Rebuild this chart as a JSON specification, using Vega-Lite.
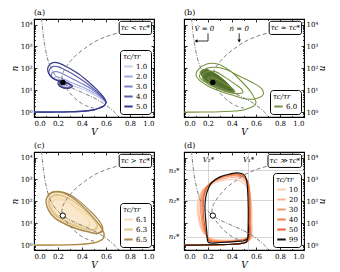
{
"$schema":"https://vega.github.io/schema/vega-lite/v6.json",
"padding":{"left":9,"top":8,"right":0,"bottom":0},
"datasets":{
"vn":[{"V":0.062,"n":19953},{"V":0.068,"n":10000},{"V":0.075,"n":3981},{"V":0.085,"n":1585},{"V":0.1,"n":562},{"V":0.12,"n":200},{"V":0.15,"n":79.4},{"V":0.19,"n":39.8},{"V":0.24,"n":22.4},{"V":0.3,"n":14.1},{"V":0.4,"n":7.94},{"V":0.5,"n":4.47},{"V":0.58,"n":2.51},{"V":0.64,"n":1.41},{"V":0.68,"n":0.89},{"V":0.71,"n":0.5}],
"nn":[{"V":1.0,"n":12589},{"V":0.9,"n":8913},{"V":0.8,"n":6310},{"V":0.7,"n":4169},{"V":0.6,"n":2818},{"V":0.5,"n":1585},{"V":0.42,"n":794},{"V":0.35,"n":398},{"V":0.3,"n":200},{"V":0.26,"n":100},{"V":0.235,"n":50.1},{"V":0.235,"n":28.2},{"V":0.25,"n":17.8},{"V":0.28,"n":10},{"V":0.32,"n":5.62},{"V":0.37,"n":3.16},{"V":0.43,"n":2.0},{"V":0.5,"n":1.51}],
"ta":[
{"s":"1.0","V":0,"n":1},{"s":"1.0","V":0.15,"n":1.01},{"s":"1.0","V":0.3,"n":1.04},{"s":"1.0","V":0.42,"n":1.12},{"s":"1.0","V":0.5,"n":1.26},{"s":"1.0","V":0.55,"n":1.58},{"s":"1.0","V":0.585,"n":2.0},{"s":"1.0","V":0.6,"n":2.8},
{"s":"1.0","V":0.575,"n":3.55},{"s":"1.0","V":0.53,"n":5.25},{"s":"1.0","V":0.45,"n":8.91},{"s":"1.0","V":0.37,"n":13.2},{"s":"1.0","V":0.3,"n":17.8},{"s":"1.0","V":0.25,"n":20.9},{"s":"1.0","V":0.24,"n":22.4},
{"s":"2.0","V":0,"n":1},{"s":"2.0","V":0.15,"n":1.01},{"s":"2.0","V":0.3,"n":1.04},{"s":"2.0","V":0.42,"n":1.12},{"s":"2.0","V":0.5,"n":1.26},{"s":"2.0","V":0.55,"n":1.58},{"s":"2.0","V":0.585,"n":2.0},{"s":"2.0","V":0.6,"n":2.8},
{"s":"2.0","V":0.58,"n":3.55},{"s":"2.0","V":0.54,"n":5.62},{"s":"2.0","V":0.46,"n":10},{"s":"2.0","V":0.38,"n":15.8},{"s":"2.0","V":0.3,"n":24},{"s":"2.0","V":0.23,"n":35.5},{"s":"2.0","V":0.18,"n":41.7},{"s":"2.0","V":0.17,"n":33.1},{"s":"2.0","V":0.2,"n":26.3},{"s":"2.0","V":0.26,"n":22.9},{"s":"2.0","V":0.29,"n":19.1},{"s":"2.0","V":0.27,"n":15.8},{"s":"2.0","V":0.23,"n":16.6},{"s":"2.0","V":0.22,"n":21.4},{"s":"2.0","V":0.24,"n":22.4},
{"s":"3.0","V":0,"n":1},{"s":"3.0","V":0.15,"n":1.01},{"s":"3.0","V":0.3,"n":1.04},{"s":"3.0","V":0.42,"n":1.12},{"s":"3.0","V":0.5,"n":1.26},{"s":"3.0","V":0.55,"n":1.58},{"s":"3.0","V":0.585,"n":2.0},{"s":"3.0","V":0.6,"n":2.8},
{"s":"3.0","V":0.585,"n":3.55},{"s":"3.0","V":0.55,"n":5.62},{"s":"3.0","V":0.48,"n":11.2},{"s":"3.0","V":0.4,"n":20},{"s":"3.0","V":0.32,"n":33.1},{"s":"3.0","V":0.25,"n":52.5},{"s":"3.0","V":0.19,"n":70.8},{"s":"3.0","V":0.155,"n":66.1},{"s":"3.0","V":0.145,"n":47.9},{"s":"3.0","V":0.165,"n":33.9},{"s":"3.0","V":0.21,"n":26.9},{"s":"3.0","V":0.27,"n":22.4},{"s":"3.0","V":0.3,"n":17.8},{"s":"3.0","V":0.29,"n":14.1},{"s":"3.0","V":0.25,"n":13.5},{"s":"3.0","V":0.22,"n":17},{"s":"3.0","V":0.22,"n":24},{"s":"3.0","V":0.25,"n":25.1},{"s":"3.0","V":0.24,"n":22.4},
{"s":"4.0","V":0,"n":1},{"s":"4.0","V":0.15,"n":1.01},{"s":"4.0","V":0.3,"n":1.04},{"s":"4.0","V":0.42,"n":1.12},{"s":"4.0","V":0.5,"n":1.26},{"s":"4.0","V":0.55,"n":1.58},{"s":"4.0","V":0.585,"n":2.0},{"s":"4.0","V":0.6,"n":2.8},
{"s":"4.0","V":0.59,"n":3.55},{"s":"4.0","V":0.56,"n":5.62},{"s":"4.0","V":0.5,"n":11.2},{"s":"4.0","V":0.43,"n":22.4},{"s":"4.0","V":0.35,"n":44.7},{"s":"4.0","V":0.27,"n":79.4},{"s":"4.0","V":0.2,"n":120},{"s":"4.0","V":0.155,"n":120},{"s":"4.0","V":0.13,"n":89.1},{"s":"4.0","V":0.125,"n":60.3},{"s":"4.0","V":0.145,"n":39.8},{"s":"4.0","V":0.19,"n":29.5},{"s":"4.0","V":0.25,"n":24},{"s":"4.0","V":0.3,"n":19.1},{"s":"4.0","V":0.31,"n":14.8},{"s":"4.0","V":0.28,"n":12.6},{"s":"4.0","V":0.23,"n":14.1},{"s":"4.0","V":0.21,"n":19.1},{"s":"4.0","V":0.22,"n":26.3},{"s":"4.0","V":0.25,"n":26.3},{"s":"4.0","V":0.26,"n":21.9},{"s":"4.0","V":0.24,"n":22.4},
{"s":"5.0","V":0,"n":1},{"s":"5.0","V":0.15,"n":1.01},{"s":"5.0","V":0.3,"n":1.04},{"s":"5.0","V":0.42,"n":1.12},{"s":"5.0","V":0.5,"n":1.26},{"s":"5.0","V":0.55,"n":1.58},{"s":"5.0","V":0.585,"n":2.0},{"s":"5.0","V":0.6,"n":2.8},
{"s":"5.0","V":0.595,"n":3.55},{"s":"5.0","V":0.57,"n":5.62},{"s":"5.0","V":0.52,"n":11.2},{"s":"5.0","V":0.45,"n":25.1},{"s":"5.0","V":0.37,"n":56.2},{"s":"5.0","V":0.28,"n":112},{"s":"5.0","V":0.2,"n":178},{"s":"5.0","V":0.15,"n":178},{"s":"5.0","V":0.12,"n":126},{"s":"5.0","V":0.115,"n":79.4},{"s":"5.0","V":0.13,"n":50.1},{"s":"5.0","V":0.17,"n":31.6},{"s":"5.0","V":0.23,"n":25.1},{"s":"5.0","V":0.29,"n":20},{"s":"5.0","V":0.32,"n":15.8},{"s":"5.0","V":0.3,"n":12.6},{"s":"5.0","V":0.25,"n":12.6},{"s":"5.0","V":0.21,"n":15.8},{"s":"5.0","V":0.2,"n":22.4},{"s":"5.0","V":0.22,"n":28.2},{"s":"5.0","V":0.26,"n":25.1},{"s":"5.0","V":0.27,"n":20},{"s":"5.0","V":0.25,"n":20},{"s":"5.0","V":0.24,"n":22.4}
],
"tb":[
{"s":"6.0","V":0,"n":1},{"s":"6.0","V":0.15,"n":1.01},{"s":"6.0","V":0.3,"n":1.04},{"s":"6.0","V":0.42,"n":1.12},{"s":"6.0","V":0.5,"n":1.26},{"s":"6.0","V":0.55,"n":1.58},{"s":"6.0","V":0.585,"n":2.0},{"s":"6.0","V":0.6,"n":2.8},
{"s":"6.0","V":0.59,"n":3.98},{"s":"6.0","V":0.56,"n":7.94},{"s":"6.0","V":0.48,"n":25.1},{"s":"6.0","V":0.38,"n":79.4},{"s":"6.0","V":0.28,"n":158},{"s":"6.0","V":0.19,"n":158},{"s":"6.0","V":0.12,"n":89.1},{"s":"6.0","V":0.1,"n":50.1},{"s":"6.0","V":0.13,"n":28.2},{"s":"6.0","V":0.2,"n":15.8},{"s":"6.0","V":0.3,"n":8.91},{"s":"6.0","V":0.42,"n":5.62},{"s":"6.0","V":0.52,"n":3.98},{"s":"6.0","V":0.62,"n":4.47},{"s":"6.0","V":0.66,"n":6.31},{"s":"6.0","V":0.65,"n":11.2},{"s":"6.0","V":0.57,"n":22.4},{"s":"6.0","V":0.46,"n":44.7},{"s":"6.0","V":0.35,"n":89.1},{"s":"6.0","V":0.27,"n":112},{"s":"6.0","V":0.19,"n":100},{"s":"6.0","V":0.14,"n":63.1},{"s":"6.0","V":0.13,"n":39.8},{"s":"6.0","V":0.17,"n":25.1},{"s":"6.0","V":0.25,"n":14.1},{"s":"6.0","V":0.35,"n":8.91},{"s":"6.0","V":0.44,"n":7.08},{"s":"6.0","V":0.49,"n":7.94},{"s":"6.0","V":0.48,"n":11.2},{"s":"6.0","V":0.42,"n":20},{"s":"6.0","V":0.34,"n":39.8},{"s":"6.0","V":0.26,"n":70.8},{"s":"6.0","V":0.19,"n":70.8},{"s":"6.0","V":0.155,"n":50.1},{"s":"6.0","V":0.16,"n":31.6},{"s":"6.0","V":0.22,"n":20},{"s":"6.0","V":0.3,"n":12.6},{"s":"6.0","V":0.38,"n":8.91},{"s":"6.0","V":0.42,"n":8.91},{"s":"6.0","V":0.4,"n":12.6},{"s":"6.0","V":0.34,"n":20},{"s":"6.0","V":0.27,"n":33},{"s":"6.0","V":0.22,"n":40},{"s":"6.0","V":0.2,"n":35},{"s":"6.0","V":0.22,"n":25},{"s":"6.0","V":0.24,"n":22.4}
],
"fb":[{"V":0.13,"hi":63.1,"lo":63.1},{"V":0.15,"hi":89.1,"lo":39.8},{"V":0.18,"hi":95.5,"lo":26.3},{"V":0.22,"hi":79.4,"lo":17.8},{"V":0.27,"hi":56.2,"lo":12.6},{"V":0.32,"hi":35.5,"lo":9.55},{"V":0.37,"hi":20,"lo":7.94},{"V":0.41,"hi":11.2,"lo":7.59},{"V":0.43,"hi":8.5,"lo":8.5}],
"tc":[
{"s":"6.1","V":0,"n":1},{"s":"6.1","V":0.15,"n":1.01},{"s":"6.1","V":0.3,"n":1.04},{"s":"6.1","V":0.42,"n":1.12},{"s":"6.1","V":0.5,"n":1.26},{"s":"6.1","V":0.55,"n":1.58},{"s":"6.1","V":0.575,"n":2.0},{"s":"6.1","V":0.585,"n":2.8},
{"s":"6.1","V":0.57,"n":3.98},{"s":"6.1","V":0.54,"n":7.94},{"s":"6.1","V":0.46,"n":20},{"s":"6.1","V":0.38,"n":44.7},{"s":"6.1","V":0.3,"n":89.1},{"s":"6.1","V":0.22,"n":141},{"s":"6.1","V":0.17,"n":132},{"s":"6.1","V":0.14,"n":89.1},{"s":"6.1","V":0.14,"n":56.2},{"s":"6.1","V":0.17,"n":28.2},{"s":"6.1","V":0.23,"n":16.6},{"s":"6.1","V":0.31,"n":10.5},{"s":"6.1","V":0.39,"n":7.59},{"s":"6.1","V":0.45,"n":7.08},{"s":"6.1","V":0.47,"n":9.55},{"s":"6.1","V":0.44,"n":17.8},{"s":"6.1","V":0.38,"n":35.5},{"s":"6.1","V":0.31,"n":70.8},{"s":"6.1","V":0.24,"n":112},{"s":"6.1","V":0.18,"n":117},{"s":"6.1","V":0.15,"n":85.1},{"s":"6.1","V":0.15,"n":53.7},{"s":"6.1","V":0.18,"n":28.8},{"s":"6.1","V":0.24,"n":17},{"s":"6.1","V":0.32,"n":10.7},{"s":"6.1","V":0.4,"n":7.76},{"s":"6.1","V":0.45,"n":7.41},{"s":"6.1","V":0.46,"n":10.5},
{"s":"6.3","V":0,"n":1},{"s":"6.3","V":0.15,"n":1.01},{"s":"6.3","V":0.3,"n":1.04},{"s":"6.3","V":0.42,"n":1.12},{"s":"6.3","V":0.5,"n":1.26},{"s":"6.3","V":0.55,"n":1.58},{"s":"6.3","V":0.575,"n":2.0},{"s":"6.3","V":0.585,"n":2.8},
{"s":"6.3","V":0.575,"n":3.98},{"s":"6.3","V":0.545,"n":7.94},{"s":"6.3","V":0.47,"n":22.4},{"s":"6.3","V":0.39,"n":56.2},{"s":"6.3","V":0.3,"n":126},{"s":"6.3","V":0.22,"n":200},{"s":"6.3","V":0.16,"n":191},{"s":"6.3","V":0.125,"n":126},{"s":"6.3","V":0.12,"n":75.9},{"s":"6.3","V":0.14,"n":39.8},{"s":"6.3","V":0.19,"n":20},{"s":"6.3","V":0.27,"n":11.2},{"s":"6.3","V":0.37,"n":6.61},{"s":"6.3","V":0.46,"n":5.01},{"s":"6.3","V":0.52,"n":5.25},{"s":"6.3","V":0.53,"n":7.08},{"s":"6.3","V":0.5,"n":14.1},{"s":"6.3","V":0.44,"n":31.6},{"s":"6.3","V":0.36,"n":75.9},{"s":"6.3","V":0.28,"n":141},{"s":"6.3","V":0.21,"n":186},{"s":"6.3","V":0.16,"n":170},{"s":"6.3","V":0.13,"n":112},{"s":"6.3","V":0.13,"n":70.8},{"s":"6.3","V":0.15,"n":39.8},{"s":"6.3","V":0.2,"n":20.4},{"s":"6.3","V":0.28,"n":11.5},{"s":"6.3","V":0.38,"n":6.76},{"s":"6.3","V":0.46,"n":5.25},{"s":"6.3","V":0.51,"n":5.5},{"s":"6.3","V":0.52,"n":7.94},
{"s":"6.5","V":0,"n":1},{"s":"6.5","V":0.15,"n":1.01},{"s":"6.5","V":0.3,"n":1.04},{"s":"6.5","V":0.42,"n":1.12},{"s":"6.5","V":0.5,"n":1.26},{"s":"6.5","V":0.55,"n":1.58},{"s":"6.5","V":0.575,"n":2.0},{"s":"6.5","V":0.585,"n":2.8},
{"s":"6.5","V":0.58,"n":3.98},{"s":"6.5","V":0.55,"n":7.94},{"s":"6.5","V":0.48,"n":22.4},{"s":"6.5","V":0.4,"n":63.1},{"s":"6.5","V":0.31,"n":158},{"s":"6.5","V":0.22,"n":263},{"s":"6.5","V":0.15,"n":251},{"s":"6.5","V":0.11,"n":158},{"s":"6.5","V":0.1,"n":89.1},{"s":"6.5","V":0.12,"n":39.8},{"s":"6.5","V":0.17,"n":17.8},{"s":"6.5","V":0.25,"n":9.55},{"s":"6.5","V":0.35,"n":5.62},{"s":"6.5","V":0.45,"n":3.98},{"s":"6.5","V":0.53,"n":3.31},{"s":"6.5","V":0.57,"n":4.47},{"s":"6.5","V":0.57,"n":7.08},{"s":"6.5","V":0.53,"n":15.8},{"s":"6.5","V":0.46,"n":39.8},{"s":"6.5","V":0.38,"n":100},{"s":"6.5","V":0.3,"n":200},{"s":"6.5","V":0.22,"n":282},{"s":"6.5","V":0.15,"n":263},{"s":"6.5","V":0.11,"n":166},{"s":"6.5","V":0.1,"n":93.3},{"s":"6.5","V":0.12,"n":41.7},{"s":"6.5","V":0.17,"n":18.6},{"s":"6.5","V":0.25,"n":10},{"s":"6.5","V":0.35,"n":5.89},{"s":"6.5","V":0.45,"n":4.17},{"s":"6.5","V":0.53,"n":3.47},{"s":"6.5","V":0.57,"n":4.68}
],
"fc":[{"V":0.1,"hi":89.1,"lo":89.1},{"V":0.11,"hi":158,"lo":63.1},{"V":0.12,"hi":200,"lo":39.8},{"V":0.15,"hi":251,"lo":25.1},{"V":0.2,"hi":263,"lo":14.1},{"V":0.25,"hi":240,"lo":9.55},{"V":0.3,"hi":191,"lo":7.24},{"V":0.35,"hi":126,"lo":5.62},{"V":0.4,"hi":70.8,"lo":4.68},{"V":0.45,"hi":35.5,"lo":3.98},{"V":0.5,"hi":15.8,"lo":3.47},{"V":0.55,"hi":7.08,"lo":3.55},{"V":0.57,"hi":4.47,"lo":4.47}],
"td":[
{"s":"10","V":0,"n":1},{"s":"10","V":0.1,"n":1.0},{"s":"10","V":0.2,"n":1.02},{"s":"10","V":0.3,"n":1.05},{"s":"10","V":0.4,"n":1.1},{"s":"10","V":0.48,"n":1.2},{"s":"10","V":0.52,"n":1.4},
{"s":"10","V":0.56,"n":2.0},{"s":"10","V":0.565,"n":10},{"s":"10","V":0.565,"n":39.8},{"s":"10","V":0.555,"n":158},{"s":"10","V":0.52,"n":501},{"s":"10","V":0.46,"n":891},{"s":"10","V":0.39,"n":1000},{"s":"10","V":0.31,"n":891},{"s":"10","V":0.23,"n":631},{"s":"10","V":0.16,"n":355},{"s":"10","V":0.125,"n":178},{"s":"10","V":0.11,"n":63.1},{"s":"10","V":0.12,"n":15.8},{"s":"10","V":0.155,"n":3.98},{"s":"10","V":0.23,"n":2.0},{"s":"10","V":0.33,"n":1.7},{"s":"10","V":0.44,"n":1.8},{"s":"10","V":0.53,"n":2.2},{"s":"10","V":0.56,"n":3.55},{"s":"10","V":0.565,"n":10},
{"s":"20","V":0,"n":1},{"s":"20","V":0.1,"n":1.0},{"s":"20","V":0.2,"n":1.02},{"s":"20","V":0.3,"n":1.05},{"s":"20","V":0.4,"n":1.1},{"s":"20","V":0.48,"n":1.2},{"s":"20","V":0.52,"n":1.4},
{"s":"20","V":0.555,"n":2.0},{"s":"20","V":0.558,"n":10},{"s":"20","V":0.558,"n":39.8},{"s":"20","V":0.552,"n":178},{"s":"20","V":0.53,"n":562},{"s":"20","V":0.48,"n":1059},{"s":"20","V":0.41,"n":1230},{"s":"20","V":0.33,"n":1100},{"s":"20","V":0.25,"n":794},{"s":"20","V":0.18,"n":420},{"s":"20","V":0.14,"n":200},{"s":"20","V":0.125,"n":63.1},{"s":"20","V":0.13,"n":15.8},{"s":"20","V":0.165,"n":3.98},{"s":"20","V":0.225,"n":1.91},{"s":"20","V":0.32,"n":1.58},{"s":"20","V":0.43,"n":1.66},{"s":"20","V":0.52,"n":2.0},{"s":"20","V":0.555,"n":3.16},{"s":"20","V":0.558,"n":10},
{"s":"30","V":0,"n":1},{"s":"30","V":0.1,"n":1.0},{"s":"30","V":0.2,"n":1.02},{"s":"30","V":0.3,"n":1.05},{"s":"30","V":0.4,"n":1.1},{"s":"30","V":0.48,"n":1.2},{"s":"30","V":0.52,"n":1.4},
{"s":"30","V":0.55,"n":2.0},{"s":"30","V":0.553,"n":10},{"s":"30","V":0.553,"n":44.7},{"s":"30","V":0.55,"n":200},{"s":"30","V":0.535,"n":631},{"s":"30","V":0.49,"n":1230},{"s":"30","V":0.42,"n":1445},{"s":"30","V":0.34,"n":1300},{"s":"30","V":0.26,"n":912},{"s":"30","V":0.19,"n":490},{"s":"30","V":0.15,"n":200},{"s":"30","V":0.138,"n":63.1},{"s":"30","V":0.145,"n":15.8},{"s":"30","V":0.172,"n":3.98},{"s":"30","V":0.22,"n":1.78},{"s":"30","V":0.31,"n":1.51},{"s":"30","V":0.42,"n":1.58},{"s":"30","V":0.51,"n":1.91},{"s":"30","V":0.55,"n":2.82},{"s":"30","V":0.553,"n":10},
{"s":"40","V":0,"n":1},{"s":"40","V":0.1,"n":1.0},{"s":"40","V":0.2,"n":1.02},{"s":"40","V":0.3,"n":1.05},{"s":"40","V":0.4,"n":1.1},{"s":"40","V":0.48,"n":1.2},{"s":"40","V":0.52,"n":1.4},
{"s":"40","V":0.545,"n":2.0},{"s":"40","V":0.55,"n":10},{"s":"40","V":0.55,"n":50.1},{"s":"40","V":0.545,"n":224},{"s":"40","V":0.535,"n":708},{"s":"40","V":0.5,"n":1318},{"s":"40","V":0.44,"n":1620},{"s":"40","V":0.36,"n":1480},{"s":"40","V":0.28,"n":1050},{"s":"40","V":0.205,"n":562},{"s":"40","V":0.162,"n":200},{"s":"40","V":0.15,"n":63.1},{"s":"40","V":0.155,"n":15.8},{"s":"40","V":0.178,"n":3.98},{"s":"40","V":0.215,"n":1.66},{"s":"40","V":0.3,"n":1.45},{"s":"40","V":0.42,"n":1.55},{"s":"40","V":0.51,"n":1.86},{"s":"40","V":0.545,"n":2.63},{"s":"40","V":0.55,"n":10},
{"s":"50","V":0,"n":1},{"s":"50","V":0.1,"n":1.0},{"s":"50","V":0.2,"n":1.02},{"s":"50","V":0.3,"n":1.05},{"s":"50","V":0.4,"n":1.1},{"s":"50","V":0.48,"n":1.2},{"s":"50","V":0.52,"n":1.4},
{"s":"50","V":0.54,"n":2.0},{"s":"50","V":0.545,"n":10},{"s":"50","V":0.545,"n":50.1},{"s":"50","V":0.54,"n":251},{"s":"50","V":0.53,"n":794},{"s":"50","V":0.5,"n":1413},{"s":"50","V":0.44,"n":1800},{"s":"50","V":0.37,"n":1640},{"s":"50","V":0.29,"n":1190},{"s":"50","V":0.215,"n":631},{"s":"50","V":0.172,"n":224},{"s":"50","V":0.16,"n":63.1},{"s":"50","V":0.165,"n":15.8},{"s":"50","V":0.183,"n":3.98},{"s":"50","V":0.21,"n":1.58},{"s":"50","V":0.3,"n":1.38},{"s":"50","V":0.42,"n":1.51},{"s":"50","V":0.51,"n":1.78},{"s":"50","V":0.54,"n":2.51},{"s":"50","V":0.545,"n":10},
{"s":"99","V":0,"n":1},{"s":"99","V":0.1,"n":1.0},{"s":"99","V":0.2,"n":1.02},{"s":"99","V":0.3,"n":1.05},{"s":"99","V":0.4,"n":1.1},{"s":"99","V":0.48,"n":1.2},{"s":"99","V":0.52,"n":1.4},
{"s":"99","V":0.53,"n":2.0},{"s":"99","V":0.535,"n":10},{"s":"99","V":0.535,"n":63.1},{"s":"99","V":0.53,"n":316},{"s":"99","V":0.52,"n":1000},{"s":"99","V":0.5,"n":1660},{"s":"99","V":0.45,"n":1995},{"s":"99","V":0.38,"n":1778},{"s":"99","V":0.3,"n":1318},{"s":"99","V":0.23,"n":708},{"s":"99","V":0.19,"n":251},{"s":"99","V":0.175,"n":63.1},{"s":"99","V":0.18,"n":15.8},{"s":"99","V":0.19,"n":3.98},{"s":"99","V":0.2,"n":1.41},{"s":"99","V":0.22,"n":1.26},{"s":"99","V":0.3,"n":1.32},{"s":"99","V":0.42,"n":1.45},{"s":"99","V":0.5,"n":1.58},{"s":"99","V":0.53,"n":2.0},{"s":"99","V":0.535,"n":10}
]
},
"resolve":{"scale":{"color":"independent"},"legend":{"color":"independent"}},
"spacing":4,
"vconcat":[
{"spacing":30,"bounds":"flush","resolve":{"scale":{"color":"independent"},"legend":{"color":"independent"}},
"hconcat":[
{"width":120,"height":98,"title":{"text":"(a)"},
"resolve":{"axis":{"x":"independent","y":"independent"}},
"layer":[
{"data":{"name":"ta"},"mark":{"type":"line","strokeWidth":1.2,"interpolate":"catmull-rom","clip":true},
"encoding":{
"x":{"field":"V","type":"quantitative","scale":{"domain":[0,1],"nice":false,"zero":false},"axis":{"orient":"bottom","values":[0.1,0.3,0.5,0.7,0.9],"labels":false,"tickSize":-1.5,"title":null}},
"y":{"field":"n","type":"quantitative","scale":{"type":"log","domain":[0.6,18000],"nice":false},"axis":{"orient":"left","values":[0.7,0.8,0.9,2,3,4,5,6,7,8,9,20,30,40,50,60,70,80,90,200,300,400,500,600,700,800,900,2000,3000,4000,5000,6000,7000,8000,9000],"labels":false,"tickSize":-1.5,"title":null}},
"color":{"field":"s","type":"nominal","scale":{"domain":["1.0","2.0","3.0","4.0","5.0"],"range":["#c8cbef","#a3a7e2","#7e83ca","#585dab","#353887"]},"legend":{"title":"τc/τr","orient":"bottom-right","offset":3}},
"order":{"value":null}}},
{"data":{"name":"vn"},"mark":{"type":"line","stroke":"#707070","strokeWidth":0.9,"strokeDash":[4,1.5,1,1.5],"interpolate":"catmull-rom","clip":true},
"encoding":{
"x":{"field":"V","type":"quantitative","scale":{"domain":[0,1],"nice":false,"zero":false},"axis":{"orient":"bottom","values":[0,0.2,0.4,0.6,0.8,1],"format":".1f","title":"V"}},
"y":{"field":"n","type":"quantitative","scale":{"type":"log","domain":[0.6,18000],"nice":false},"axis":{"orient":"left","values":[1,10,100,1000,10000],"labelExpr":"datum.value < 5 ? '10⁰' : datum.value < 50 ? '10¹' : datum.value < 500 ? '10²' : datum.value < 5000 ? '10³' : '10⁴'","title":"n"}}}},
{"data":{"name":"nn"},"mark":{"type":"line","stroke":"#707070","strokeWidth":0.9,"strokeDash":[4,2.5],"interpolate":"catmull-rom","clip":true},
"encoding":{
"x":{"field":"V","type":"quantitative","scale":{"domain":[0,1],"nice":false,"zero":false},"axis":{"orient":"top","values":[0,0.2,0.4,0.6,0.8,1],"labels":false,"title":null}},
"y":{"field":"n","type":"quantitative","scale":{"type":"log","domain":[0.6,18000],"nice":false},"axis":{"orient":"right","values":[1,10,100,1000,10000],"labels":false,"title":null}},
"order":{"value":null}}},
{"data":{"values":[{}]},"mark":{"type":"point","filled":true,"color":"black","size":30,"opacity":1},
"encoding":{
"x":{"datum":0.24,"type":"quantitative","scale":{"domain":[0,1],"nice":false,"zero":false},"axis":{"orient":"top","values":[0.1,0.3,0.5,0.7,0.9],"labels":false,"tickSize":-1.5,"title":null}},
"y":{"datum":22.4,"type":"quantitative","scale":{"type":"log","domain":[0.6,18000],"nice":false},"axis":{"orient":"right","values":[0.7,0.8,0.9,2,3,4,5,6,7,8,9,20,30,40,50,60,70,80,90,200,300,400,500,600,700,800,900,2000,3000,4000,5000,6000,7000,8000,9000],"labels":false,"tickSize":-1.5,"title":null}}}},
{"data":{"values":[{}]},"mark":{"type":"rect","fill":"white","stroke":"black","strokeWidth":1,"cornerRadius":2},
"encoding":{"x":{"datum":0.71,"type":"quantitative","axis":null},"x2":{"datum":0.98},"y":{"datum":3548,"type":"quantitative","axis":null},"y2":{"datum":14125}}},
{"data":{"values":[{}]},"mark":{"type":"text","text":"τc < τc*","fontSize":7,"fontStyle":"italic","font":"DejaVu Serif"},
"encoding":{"x":{"datum":0.845,"type":"quantitative","axis":null},"y":{"datum":7079,"type":"quantitative","axis":null}}}
]},
{"width":120,"height":98,"title":{"text":"(b)"},
"resolve":{"axis":{"x":"independent","y":"independent"}},
"layer":[
{"data":{"name":"fb"},"mark":{"type":"area","fill":"#53702b","opacity":1,"interpolate":"monotone","clip":true},
"encoding":{
"x":{"field":"V","type":"quantitative","scale":{"domain":[0,1],"nice":false,"zero":false},"axis":{"orient":"bottom","values":[0.1,0.3,0.5,0.7,0.9],"labels":false,"tickSize":-1.5,"title":null}},
"y":{"field":"hi","type":"quantitative","scale":{"type":"log","domain":[0.6,18000],"nice":false},"axis":{"orient":"left","values":[0.7,0.8,0.9,2,3,4,5,6,7,8,9,20,30,40,50,60,70,80,90,200,300,400,500,600,700,800,900,2000,3000,4000,5000,6000,7000,8000,9000],"labels":false,"tickSize":-1.5,"title":null}},
"y2":{"field":"lo"}}},
{"data":{"name":"tb"},"mark":{"type":"line","strokeWidth":1.1,"interpolate":"catmull-rom","clip":true},
"encoding":{
"x":{"field":"V","type":"quantitative","scale":{"domain":[0,1],"nice":false,"zero":false},"axis":{"orient":"top","values":[0.1,0.3,0.5,0.7,0.9],"labels":false,"tickSize":-1.5,"title":null}},
"y":{"field":"n","type":"quantitative","scale":{"type":"log","domain":[0.6,18000],"nice":false},"axis":{"orient":"right","values":[0.7,0.8,0.9,2,3,4,5,6,7,8,9,20,30,40,50,60,70,80,90,200,300,400,500,600,700,800,900,2000,3000,4000,5000,6000,7000,8000,9000],"labels":false,"tickSize":-1.5,"title":null}},
"color":{"field":"s","type":"nominal","scale":{"domain":["6.0"],"range":["#76933f"]},"legend":{"title":"τc/τr","orient":"bottom-right","offset":3}},
"order":{"value":null}}},
{"data":{"name":"vn"},"mark":{"type":"line","stroke":"#707070","strokeWidth":0.9,"strokeDash":[4,1.5,1,1.5],"interpolate":"catmull-rom","clip":true},
"encoding":{
"x":{"field":"V","type":"quantitative","scale":{"domain":[0,1],"nice":false,"zero":false},"axis":{"orient":"bottom","values":[0,0.2,0.4,0.6,0.8,1],"format":".1f","title":"V"}},
"y":{"field":"n","type":"quantitative","scale":{"type":"log","domain":[0.6,18000],"nice":false},"axis":{"orient":"right","values":[1,10,100,1000,10000],"labelExpr":"datum.value < 5 ? '10⁰' : datum.value < 50 ? '10¹' : datum.value < 500 ? '10²' : datum.value < 5000 ? '10³' : '10⁴'","title":"n","titlePadding":0}}}},
{"data":{"name":"nn"},"mark":{"type":"line","stroke":"#707070","strokeWidth":0.9,"strokeDash":[4,2.5],"interpolate":"catmull-rom","clip":true},
"encoding":{
"x":{"field":"V","type":"quantitative","scale":{"domain":[0,1],"nice":false,"zero":false},"axis":{"orient":"top","values":[0,0.2,0.4,0.6,0.8,1],"labels":false,"title":null}},
"y":{"field":"n","type":"quantitative","scale":{"type":"log","domain":[0.6,18000],"nice":false},"axis":{"orient":"left","values":[1,10,100,1000,10000],"labels":false,"title":null}},
"order":{"value":null}}},
{"data":{"values":[{}]},"mark":{"type":"point","filled":true,"color":"black","size":30,"opacity":1},
"encoding":{"x":{"datum":0.24,"type":"quantitative","axis":null},"y":{"datum":22.4,"type":"quantitative","axis":null}}},
{"data":{"values":[{}]},"mark":{"type":"rect","fill":"white","stroke":"black","strokeWidth":1,"cornerRadius":2},
"encoding":{"x":{"datum":0.71,"type":"quantitative","axis":null},"x2":{"datum":0.98},"y":{"datum":3548,"type":"quantitative","axis":null},"y2":{"datum":14125}}},
{"data":{"values":[{}]},"mark":{"type":"text","text":"τc ≈ τc*","fontSize":7,"fontStyle":"italic","font":"DejaVu Serif"},
"encoding":{"x":{"datum":0.845,"type":"quantitative","axis":null},"y":{"datum":7079,"type":"quantitative","axis":null}}},
{"data":{"values":[{}]},"mark":{"type":"text","text":"V̇ = 0","fontSize":7,"fontStyle":"italic","font":"DejaVu Serif"},
"encoding":{"x":{"datum":0.17,"type":"quantitative","axis":null},"y":{"datum":6166,"type":"quantitative","axis":null}}},
{"data":{"values":[{}]},"mark":{"type":"text","text":"ṅ = 0","fontSize":7,"fontStyle":"italic","font":"DejaVu Serif"},
"encoding":{"x":{"datum":0.46,"type":"quantitative","axis":null},"y":{"datum":6166,"type":"quantitative","axis":null}}},
{"data":{"values":[{}]},"mark":{"type":"rule","color":"black","strokeWidth":0.8},
"encoding":{"x":{"datum":0.2,"type":"quantitative","axis":null},"y":{"datum":3981,"type":"quantitative","axis":null},"y2":{"datum":1778}}},
{"data":{"values":[{}]},"mark":{"type":"rule","color":"black","strokeWidth":0.8},
"encoding":{"x":{"datum":0.2,"type":"quantitative","axis":null},"x2":{"datum":0.1},"y":{"datum":1778,"type":"quantitative","axis":null}}},
{"data":{"values":[{}]},"mark":{"type":"rule","color":"black","strokeWidth":0.8},
"encoding":{"x":{"datum":0.46,"type":"quantitative","axis":null},"y":{"datum":3981,"type":"quantitative","axis":null},"y2":{"datum":1778}}},
{"data":{"values":[{}]},"mark":{"type":"point","shape":"triangle-left","filled":true,"color":"black","size":12,"opacity":1},
"encoding":{"x":{"datum":0.1,"type":"quantitative","axis":null},"y":{"datum":1778,"type":"quantitative","axis":null}}},
{"data":{"values":[{}]},"mark":{"type":"point","shape":"triangle-down","filled":true,"color":"black","size":12,"opacity":1},
"encoding":{"x":{"datum":0.46,"type":"quantitative","axis":null},"y":{"datum":1778,"type":"quantitative","axis":null}}}
]}
]},
{"spacing":30,"bounds":"flush","resolve":{"scale":{"color":"independent"},"legend":{"color":"independent"}},
"hconcat":[
{"width":120,"height":98,"title":{"text":"(c)"},
"resolve":{"axis":{"x":"independent","y":"independent"}},
"layer":[
{"data":{"name":"fc"},"mark":{"type":"area","fill":"#fbe8cc","opacity":1,"interpolate":"monotone","clip":true},
"encoding":{
"x":{"field":"V","type":"quantitative","scale":{"domain":[0,1],"nice":false,"zero":false},"axis":{"orient":"bottom","values":[0.1,0.3,0.5,0.7,0.9],"labels":false,"tickSize":-1.5,"title":null}},
"y":{"field":"hi","type":"quantitative","scale":{"type":"log","domain":[0.6,18000],"nice":false},"axis":{"orient":"left","values":[0.7,0.8,0.9,2,3,4,5,6,7,8,9,20,30,40,50,60,70,80,90,200,300,400,500,600,700,800,900,2000,3000,4000,5000,6000,7000,8000,9000],"labels":false,"tickSize":-1.5,"title":null}},
"y2":{"field":"lo"}}},
{"data":{"name":"tc"},"mark":{"type":"line","strokeWidth":1.2,"interpolate":"catmull-rom","clip":true},
"encoding":{
"x":{"field":"V","type":"quantitative","scale":{"domain":[0,1],"nice":false,"zero":false},"axis":{"orient":"top","values":[0.1,0.3,0.5,0.7,0.9],"labels":false,"tickSize":-1.5,"title":null}},
"y":{"field":"n","type":"quantitative","scale":{"type":"log","domain":[0.6,18000],"nice":false},"axis":{"orient":"right","values":[0.7,0.8,0.9,2,3,4,5,6,7,8,9,20,30,40,50,60,70,80,90,200,300,400,500,600,700,800,900,2000,3000,4000,5000,6000,7000,8000,9000],"labels":false,"tickSize":-1.5,"title":null}},
"color":{"field":"s","type":"nominal","scale":{"domain":["6.1","6.3","6.5"],"range":["#f3dcae","#e2c489","#a8884a"]},"legend":{"title":"τc/τr","orient":"bottom-right","offset":3}},
"order":{"value":null}}},
{"data":{"name":"vn"},"mark":{"type":"line","stroke":"#707070","strokeWidth":0.9,"strokeDash":[4,1.5,1,1.5],"interpolate":"catmull-rom","clip":true},
"encoding":{
"x":{"field":"V","type":"quantitative","scale":{"domain":[0,1],"nice":false,"zero":false},"axis":{"orient":"bottom","values":[0,0.2,0.4,0.6,0.8,1],"format":".1f","title":"V"}},
"y":{"field":"n","type":"quantitative","scale":{"type":"log","domain":[0.6,18000],"nice":false},"axis":{"orient":"left","values":[1,10,100,1000,10000],"labelExpr":"datum.value < 5 ? '10⁰' : datum.value < 50 ? '10¹' : datum.value < 500 ? '10²' : datum.value < 5000 ? '10³' : '10⁴'","title":"n"}}}},
{"data":{"name":"nn"},"mark":{"type":"line","stroke":"#707070","strokeWidth":0.9,"strokeDash":[4,2.5],"interpolate":"catmull-rom","clip":true},
"encoding":{
"x":{"field":"V","type":"quantitative","scale":{"domain":[0,1],"nice":false,"zero":false},"axis":{"orient":"top","values":[0,0.2,0.4,0.6,0.8,1],"labels":false,"title":null}},
"y":{"field":"n","type":"quantitative","scale":{"type":"log","domain":[0.6,18000],"nice":false},"axis":{"orient":"right","values":[1,10,100,1000,10000],"labels":false,"title":null}},
"order":{"value":null}}},
{"data":{"values":[{}]},"mark":{"type":"point","filled":true,"fill":"white","stroke":"black","strokeWidth":1,"size":28,"opacity":1},
"encoding":{"x":{"datum":0.24,"type":"quantitative","axis":null},"y":{"datum":22.4,"type":"quantitative","axis":null}}},
{"data":{"values":[{}]},"mark":{"type":"rect","fill":"white","stroke":"black","strokeWidth":1,"cornerRadius":2},
"encoding":{"x":{"datum":0.71,"type":"quantitative","axis":null},"x2":{"datum":0.98},"y":{"datum":3548,"type":"quantitative","axis":null},"y2":{"datum":14125}}},
{"data":{"values":[{}]},"mark":{"type":"text","text":"τc > τc*","fontSize":7,"fontStyle":"italic","font":"DejaVu Serif"},
"encoding":{"x":{"datum":0.845,"type":"quantitative","axis":null},"y":{"datum":7079,"type":"quantitative","axis":null}}}
]},
{"width":120,"height":98,"title":{"text":"(d)"},
"resolve":{"axis":{"x":"independent","y":"independent"}},
"layer":[
{"data":{"name":"td"},"mark":{"type":"line","strokeWidth":1.2,"interpolate":"catmull-rom","clip":true},
"encoding":{
"x":{"field":"V","type":"quantitative","scale":{"domain":[0,1],"nice":false,"zero":false},"axis":{"orient":"bottom","values":[0.1,0.3,0.5,0.7,0.9],"labels":false,"tickSize":-1.5,"title":null}},
"y":{"field":"n","type":"quantitative","scale":{"type":"log","domain":[0.6,18000],"nice":false},"axis":{"orient":"left","values":[2.4,110,2600],"labelExpr":"datum.value < 10 ? 'n₁*' : datum.value < 1000 ? 'n₂*' : 'n₃*'","labelFontStyle":"italic","ticks":false,"grid":true,"gridColor":"#c4c4c4","gridWidth":0.7,"title":null}},
"color":{"field":"s","type":"nominal","scale":{"domain":["10","20","30","40","50","99"],"range":["#fcccb2","#fab393","#f7986d","#f27c49","#e8612a","#111111"]},"legend":{"title":"τc/τr","orient":"bottom-right","offset":3}},
"order":{"value":null}}},
{"data":{"name":"vn"},"mark":{"type":"line","stroke":"#707070","strokeWidth":0.9,"strokeDash":[4,1.5,1,1.5],"interpolate":"catmull-rom","clip":true},
"encoding":{
"x":{"field":"V","type":"quantitative","scale":{"domain":[0,1],"nice":false,"zero":false},"axis":{"orient":"bottom","values":[0,0.2,0.4,0.6,0.8,1],"format":".1f","title":"V"}},
"y":{"field":"n","type":"quantitative","scale":{"type":"log","domain":[0.6,18000],"nice":false},"axis":{"orient":"right","values":[1,10,100,1000,10000],"labelExpr":"datum.value < 5 ? '10⁰' : datum.value < 50 ? '10¹' : datum.value < 500 ? '10²' : datum.value < 5000 ? '10³' : '10⁴'","title":"n","titlePadding":0}}}},
{"data":{"name":"nn"},"mark":{"type":"line","stroke":"#707070","strokeWidth":0.9,"strokeDash":[4,2.5],"interpolate":"catmull-rom","clip":true},
"encoding":{
"x":{"field":"V","type":"quantitative","scale":{"domain":[0,1],"nice":false,"zero":false},"axis":{"orient":"top","values":[0,0.2,0.4,0.6,0.8,1],"labels":false,"title":null}},
"y":{"field":"n","type":"quantitative","scale":{"type":"log","domain":[0.6,18000],"nice":false},"axis":{"orient":"left","values":[1,10,100,1000,10000],"labels":false,"title":null}},
"order":{"value":null}}},
{"data":{"values":[{}]},"mark":{"type":"point","filled":true,"fill":"white","stroke":"black","strokeWidth":1,"size":28,"opacity":1},
"encoding":{
"x":{"datum":0.24,"type":"quantitative","scale":{"domain":[0,1],"nice":false,"zero":false},"axis":{"orient":"top","values":[0.2,0.535],"labelExpr":"datum.value < 0.3 ? 'V₂*' : 'V₁*'","labelFontStyle":"italic","ticks":false,"grid":true,"gridColor":"#c4c4c4","gridWidth":0.7,"labelPadding":-10,"title":null}},
"y":{"datum":22.4,"type":"quantitative","scale":{"type":"log","domain":[0.6,18000],"nice":false},"axis":{"orient":"right","values":[0.7,0.8,0.9,2,3,4,5,6,7,8,9,20,30,40,50,60,70,80,90,200,300,400,500,600,700,800,900,2000,3000,4000,5000,6000,7000,8000,9000],"labels":false,"tickSize":-1.5,"title":null}}}},
{"data":{"values":[{}]},"mark":{"type":"rect","fill":"white","stroke":"black","strokeWidth":1,"cornerRadius":2},
"encoding":{
"x":{"datum":0.7,"type":"quantitative","scale":{"domain":[0,1],"nice":false,"zero":false},"axis":{"orient":"top","values":[0.1,0.3,0.5,0.7,0.9],"labels":false,"tickSize":-1.5,"title":null}},
"x2":{"datum":0.98},
"y":{"datum":3548,"type":"quantitative","scale":{"type":"log","domain":[0.6,18000],"nice":false},"axis":{"orient":"left","values":[0.7,0.8,0.9,2,3,4,5,6,7,8,9,20,30,40,50,60,70,80,90,200,300,400,500,600,700,800,900,2000,3000,4000,5000,6000,7000,8000,9000],"labels":false,"tickSize":-1.5,"title":null}},
"y2":{"datum":14125}}},
{"data":{"values":[{}]},"mark":{"type":"text","text":"τc ≫ τc*","fontSize":7,"fontStyle":"italic","font":"DejaVu Serif"},
"encoding":{"x":{"datum":0.84,"type":"quantitative","axis":null},"y":{"datum":7079,"type":"quantitative","axis":null}}}
]}
]}
],
"config":{
"font":"DejaVu Serif",
"view":{"stroke":"black","strokeWidth":1.1},
"axis":{"domain":false,"grid":false,"tickColor":"black","tickSize":-3,"tickWidth":0.8,"labelFont":"DejaVu Serif","labelFontSize":7,"labelColor":"black","labelPadding":5,"titleFont":"DejaVu Serif","titleFontSize":9,"titleFontStyle":"italic","titleFontWeight":"normal","titleColor":"black","titlePadding":1},
"legend":{"strokeColor":"black","fillColor":"white","cornerRadius":3,"padding":3,"titleFont":"DejaVu Serif","titleFontSize":7,"titleFontWeight":"normal","titleFontStyle":"italic","titleColor":"black","labelFont":"DejaVu Serif","labelFontSize":7,"labelColor":"black","symbolType":"stroke","symbolStrokeWidth":2,"symbolSize":70,"rowPadding":0,"titlePadding":1,"labelOffset":2},
"title":{"font":"DejaVu Serif","fontSize":8,"fontWeight":"normal","anchor":"start","offset":2,"frame":"group","color":"black"}
}
}
